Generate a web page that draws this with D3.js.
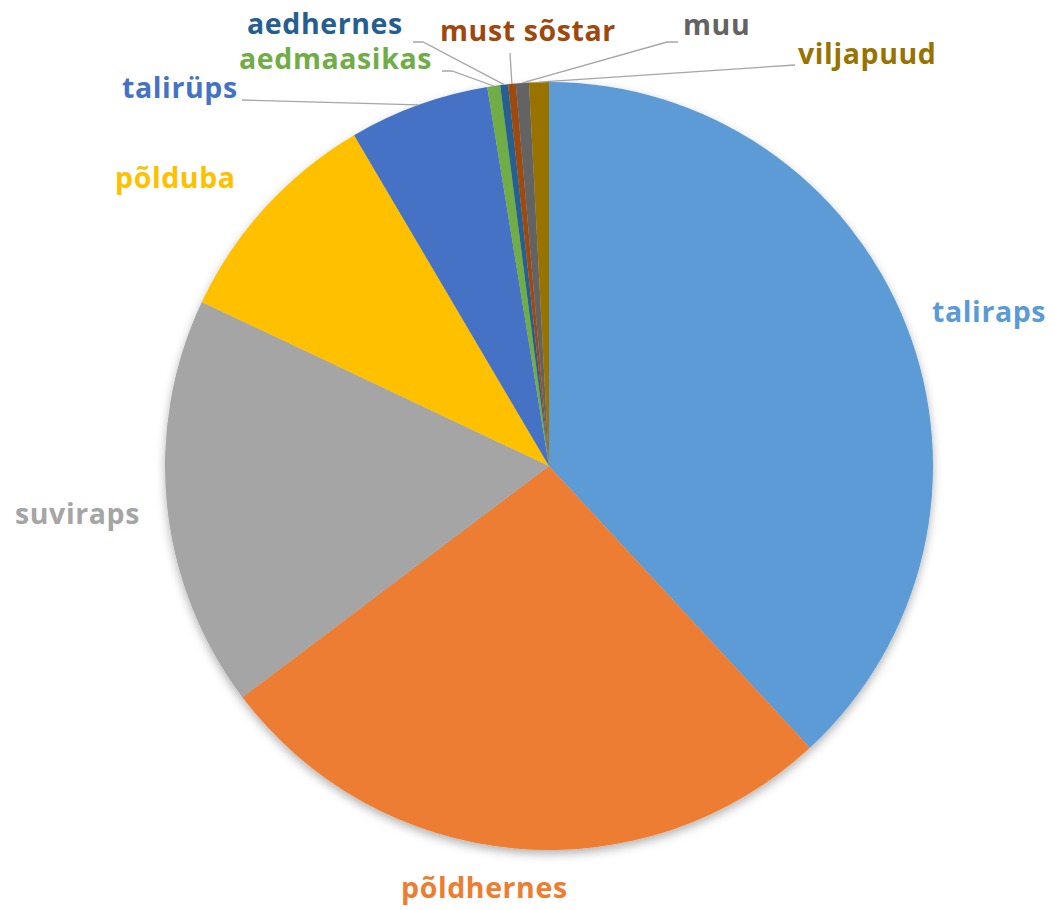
<!DOCTYPE html>
<html>
<head>
<meta charset="utf-8">
<script src="https://cdn.jsdelivr.net/npm/d3@7"></script>
<style>
  body { margin: 0; background: #fff; }
  text { font-family: "Open Sans", Lato, sans-serif; font-weight: bold; }
</style>
</head>
<body>
<div id="chart"></div>
<script>
var categories = ['taliraps', 'põldhernes', 'suviraps', 'põlduba', 'talirüps',
  'aedmaasikas', 'aedhernes', 'must sõstar', 'muu', 'viljapuud'];
var values = [38.1, 26.6, 17.3, 9.5, 5.9, 0.54, 0.33, 0.32, 0.55, 0.83];
var colors = ['#5B9BD5', '#ED7D31', '#A5A5A5', '#FFC000', '#4472C4',
  '#70AD47', '#255E91', '#9E480E', '#636363', '#997300'];

var width = 1052, height = 910;
var cx = 549, cy = 466, radius = 384;

// label placement: text start x, baseline y, leader line start points (if any)
var labelLayout = {
  'taliraps': { x: 932, y: 322 },
  'põldhernes': { x: 401, y: 898 },
  'suviraps': { x: 15, y: 524 },
  'põlduba': { x: 115, y: 188 },
  'talirüps': { x: 122, y: 98, line: [[242, 100]] },
  'aedmaasikas': { x: 239, y: 69, line: [[442, 71], [452, 71]] },
  'aedhernes': { x: 247, y: 34, line: [[413, 42], [423, 42]] },
  'must sõstar': { x: 440, y: 41, line: [[510, 53]] },
  'muu': { x: 683, y: 35, line: [[678, 42], [667, 42]] },
  'viljapuud': { x: 798, y: 64, line: [[795, 65]] }
};

var dataset = categories.map(function(c, i) {
  return { name: c, value: values[i], color: colors[i] };
});

var svg = d3.select('#chart')
  .append('svg')
  .attr('width', width)
  .attr('height', height);

var defs = svg.append('defs');
var filter = defs.append('filter')
  .attr('id', 'shadow')
  .attr('x', '-10%').attr('y', '-10%')
  .attr('width', '120%').attr('height', '120%');
filter.append('feDropShadow')
  .attr('dx', 0)
  .attr('dy', 4)
  .attr('stdDeviation', 5)
  .attr('flood-color', '#000')
  .attr('flood-opacity', 0.3);

var pie = d3.pie()
  .sort(null)
  .value(function(d) { return d.value; });

var arc = d3.arc()
  .innerRadius(0)
  .outerRadius(radius);

var arcs = pie(dataset);

var g = svg.append('g')
  .attr('transform', 'translate(' + cx + ',' + cy + ')');

g.append('g')
  .attr('filter', 'url(#shadow)')
  .selectAll('path')
  .data(arcs)
  .enter()
  .append('path')
  .attr('d', arc)
  .attr('fill', function(d) { return d.data.color; });

// leader lines
arcs.forEach(function(d) {
  var lay = labelLayout[d.data.name];
  if (!lay.line) return;
  var mid = (d.startAngle + d.endAngle) / 2;
  var end = [cx + radius * Math.sin(mid), cy - radius * Math.cos(mid)];
  var pts = lay.line.concat([end]);
  svg.append('path')
    .attr('d', d3.line()(pts))
    .attr('fill', 'none')
    .attr('stroke', '#A6A6A6')
    .attr('stroke-width', 1.3);
});

// labels
svg.selectAll('.label')
  .data(arcs)
  .enter()
  .append('text')
  .attr('class', 'label')
  .attr('x', function(d) { return labelLayout[d.data.name].x; })
  .attr('y', function(d) { return labelLayout[d.data.name].y; })
  .attr('font-size', 28.5)
  .attr('letter-spacing', 0.6)
  .attr('fill', function(d) { return d.data.color; })
  .text(function(d) { return d.data.name; });
</script>
</body>
</html>
